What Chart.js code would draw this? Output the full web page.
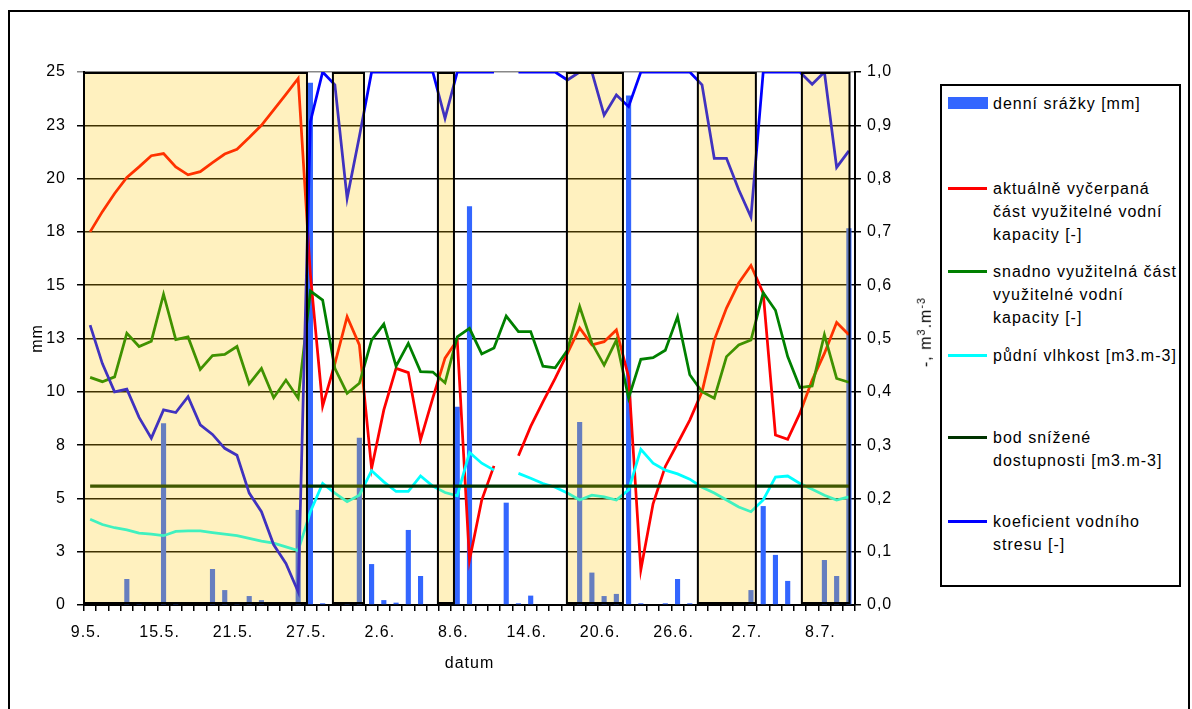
<!DOCTYPE html>
<html lang="cs">
<head>
<meta charset="utf-8">
<title>Vodní bilance porostu</title>
<script src="https://cdn.jsdelivr.net/npm/chart.js@4/dist/chart.umd.min.js"></script>
<style>
  html, body { margin: 0; padding: 0; background: #fff; }
  body { width: 1192px; height: 709px; position: relative; overflow: hidden;
         font-family: "Liberation Sans", Arial, sans-serif; }
  #ramecek { position: absolute; left: 8px; top: 10px; width: 1182px; height: 730px;
             border: 2px solid #000; box-sizing: border-box; }
  #graf { position: absolute; left: 0; top: 0; }
  #legendaBox { position: absolute; left: 940px; top: 84px; width: 241px; height: 503px;
                border: 2px solid #000; box-sizing: border-box; background: #fff; }
  .radek { position: absolute; left: 993px; font-size: 16px; line-height: 23px;
           letter-spacing: 1px; white-space: nowrap; color: #000; }
  .znacka { position: absolute; left: 948px; }
  #osaVpravo { position: absolute; left: 925px; top: 332px; font-size: 16px; letter-spacing: 1px;
               white-space: nowrap; transform: translate(-50%, -50%) rotate(-90deg); }
  #osaVpravo sup { font-size: 11px; }
</style>
</head>
<body>
<div id="ramecek"></div>
<canvas id="graf" width="1192" height="709"></canvas>
<div id="legendaBox"></div>
<div id="legenda"></div>
<div id="osaVpravo">-, m<sup>3</sup>.m<sup>-3</sup></div>
<script>
// dny 9.5. - 10.7.
const dny = [
  '9.5.', '10.5.', '11.5.', '12.5.', '13.5.', '14.5.', '15.5.', '16.5.', '17.5.', '18.5.',
  '19.5.', '20.5.', '21.5.', '22.5.', '23.5.', '24.5.', '25.5.', '26.5.', '27.5.', '28.5.',
  '29.5.', '30.5.', '31.5.', '1.6.', '2.6.', '3.6.', '4.6.', '5.6.', '6.6.', '7.6.',
  '8.6.', '9.6.', '10.6.', '11.6.', '12.6.', '13.6.', '14.6.', '15.6.', '16.6.', '17.6.',
  '18.6.', '19.6.', '20.6.', '21.6.', '22.6.', '23.6.', '24.6.', '25.6.', '26.6.', '27.6.',
  '28.6.', '29.6.', '30.6.', '1.7.', '2.7.', '3.7.', '4.7.', '5.7.', '6.7.', '7.7.',
  '8.7.', '9.7.', '10.7.'
];

// denní srážky [mm]
const srazky = [
  0, 0, 0, 1.22, 0.1, 0, 8.52, 0.1, 0, 0,
  1.69, 0.7, 0.05, 0.42, 0.23, 0, 0, 4.46, 24.5, 0.08,
  0, 0.05, 7.85, 1.92, 0.23, 0.11, 3.52, 1.36, 0, 0,
  9.3, 18.7, 0, 0, 4.8, 0.08, 0.44, 0, 0, 0,
  8.58, 1.52, 0.42, 0.52, 23.9, 0.08, 0, 0.08, 1.22, 0.08,
  0, 0, 0, 0, 0.7, 4.64, 2.35, 1.13, 0, 0,
  2.11, 1.36, 17.67
];

// aktuálně vyčerpaná část využitelné vodní kapacity [-]
const vycerpanaCast = [
  0.700, 0.738, 0.772, 0.802, 0.822, 0.843, 0.847, 0.822, 0.807, 0.813,
  0.830, 0.846, 0.855, 0.877, 0.900, 0.929, 0.958, 0.988, 0.620, 0.373,
  0.453, 0.541, 0.488, 0.256, 0.366, 0.444, 0.436, 0.310, 0.388, 0.463,
  0.497, 0.084, 0.197, 0.261, null, 0.280, 0.335, 0.381, 0.425, 0.472,
  0.520, 0.488, 0.494, 0.516, 0.428, 0.066, 0.190, 0.260, 0.303, 0.347,
  0.400, 0.497, 0.557, 0.604, 0.637, 0.585, 0.319, 0.311, 0.360, 0.422,
  0.472, 0.530, 0.507
];

// snadno využitelná část využitelné vodní kapacity [-]
const snadnoVyuzitelna = [
  0.427, 0.419, 0.428, 0.510, 0.485, 0.495, 0.583, 0.498, 0.503, 0.442,
  0.468, 0.470, 0.485, 0.415, 0.444, 0.389, 0.422, 0.388, 0.589, 0.572,
  0.444, 0.397, 0.416, 0.497, 0.527, 0.448, 0.491, 0.438, 0.437, 0.417,
  0.503, 0.519, 0.471, 0.482, 0.542, 0.513, 0.513, 0.448, 0.445, 0.478,
  0.560, 0.491, 0.450, 0.497, 0.388, 0.461, 0.464, 0.478, 0.541, 0.432,
  0.400, 0.388, 0.466, 0.488, 0.497, 0.586, 0.553, 0.466, 0.408, 0.411,
  0.507, 0.425, 0.418
];

// půdní vlhkost [m3.m-3]
const pudniVlhkost = [
  0.161, 0.151, 0.145, 0.141, 0.135, 0.133, 0.130, 0.138, 0.139, 0.139,
  0.136, 0.133, 0.130, 0.125, 0.120, 0.116, 0.109, 0.102, 0.175, 0.228,
  0.210, 0.194, 0.206, 0.252, 0.231, 0.213, 0.213, 0.242, 0.223, 0.211,
  0.205, 0.286, 0.266, 0.253, null, 0.247, 0.238, 0.228, 0.221, 0.210,
  0.197, 0.206, 0.203, 0.197, 0.216, 0.292, 0.266, 0.253, 0.246, 0.236,
  0.221, 0.210, 0.197, 0.184, 0.175, 0.197, 0.240, 0.242, 0.228, 0.217,
  0.206, 0.197, 0.203
];

// bod snížené dostupnosti [m3.m-3] - konstanta pro celé období
const bodSnizene = 0.223;
const bodSnizeneDostupnosti = dny.map(() => bodSnizene);

// koeficient vodního stresu [-]
const koeficientStresu = [
  0.525, 0.453, 0.400, 0.405, 0.352, 0.313, 0.366, 0.361, 0.391, 0.338,
  0.320, 0.294, 0.281, 0.210, 0.175, 0.113, 0.078, 0.025, 0.907, 1.0,
  0.976, 0.763, 0.879, 1.0, 1.0, 1.0, 1.0, 1.0, 1.0, 0.913,
  1.0, 1.0, 1.0, 1.0, null, 1.0, 1.0, 1.0, 1.0, 0.985,
  1.0, 1.0, 0.919, 0.957, 0.935, 1.0, 1.0, 1.0, 1.0, 1.0,
  0.976, 0.838, 0.838, 0.779, 0.728, 1.0, 1.0, 1.0, 1.0, 0.977,
  1.0, 0.821, 0.852
];

// období stresu (od - do, v pořadí dnů)
const obdobiStresu = [
  [-0.5, 17.72], [19.84, 22.38], [28.42, 29.73], [38.96, 43.54], [49.66, 54.40], [58.16, 62.05]
];

// texty legendy po řádcích a jejich svislá poloha
const legendaRadky = [
  ['denní srážky [mm]'],
  ['aktuálně vyčerpaná', 'část využitelné vodní', 'kapacity [-]'],
  ['snadno využitelná část', 'využitelné vodní', 'kapacity [-]'],
  ['půdní vlhkost [m3.m-3]'],
  ['bod snížené', 'dostupnosti [m3.m-3]'],
  ['koeficient vodního', 'stresu [-]']
];
const legendaY = [103, 188, 271, 355, 437, 521];

const pismo = "'Liberation Sans', Arial, sans-serif";
Chart.defaults.font.family = pismo;
Chart.defaults.font.size = 16;
Chart.defaults.color = '#000';

const cara = (label, data, color, order, width) => ({
  type: 'line',
  label: label,
  data: data,
  yAxisID: 'y1',
  borderColor: color,
  backgroundColor: color,
  borderWidth: width || 2.75,
  pointRadius: 0,
  tension: 0,
  spanGaps: false,
  order: order
});

const dataGraf = {
  labels: dny,
  datasets: [
    {
      type: 'bar',
      label: 'denní srážky [mm]',
      data: srazky,
      yAxisID: 'y',
      backgroundColor: '#3366FF',
      barPercentage: 0.42,
      categoryPercentage: 1,
      order: 5
    },
    cara('aktuálně vyčerpaná část využitelné vodní kapacity [-]', vycerpanaCast, '#FF0000', 4),
    cara('snadno využitelná část využitelné vodní kapacity [-]', snadnoVyuzitelna, '#008000', 3),
    cara('půdní vlhkost [m3.m-3]', pudniVlhkost, '#00FFFF', 2),
    cara('bod snížené dostupnosti [m3.m-3]', bodSnizeneDostupnosti, '#003300', 1, 3.25),
    cara('koeficient vodního stresu [-]', koeficientStresu, '#0000FF', 0)
  ]
};

// žluté obdélníky přes období stresu
const stresovaObdobi = {
  id: 'stresovaObdobi',
  afterDatasetsDraw(chart) {
    const {ctx, chartArea, scales: {x}} = chart;
    const top = chartArea.top + 1;
    const bottom = chartArea.bottom - 2;
    ctx.save();
    obdobiStresu.forEach(([od, po]) => {
      const x1 = Math.max(x.getPixelForValue(od), chartArea.left);
      const x2 = Math.min(x.getPixelForValue(po), chartArea.right);
      ctx.fillStyle = 'rgba(255, 200, 0, 0.25)';
      ctx.fillRect(x1, top, x2 - x1, bottom - top);
      ctx.strokeStyle = '#000';
      ctx.lineWidth = 2;
      ctx.strokeRect(x1, top, x2 - x1, bottom - top);
    });
    ctx.restore();
  }
};

// proložení písmen jako v původním grafu
const prolozeni = {
  id: 'prolozeni',
  beforeUpdate(chart) { chart.ctx.letterSpacing = '1px'; },
  beforeDraw(chart) { chart.ctx.letterSpacing = '1px'; }
};

const optionsGraf = {
  responsive: false,
  animation: false,
  events: [],
  layout: { padding: { left: 0, top: 72, right: 257, bottom: 0 } },
  plugins: {
    legend: { display: false },
    tooltip: { enabled: false }
  },
  scales: {
    x: {
      offset: true,
      grid: { offset: true, drawOnChartArea: false, tickLength: 6, color: '#000', lineWidth: 1.5 },
      border: { color: '#000', width: 2 },
      ticks: {
        autoSkip: false,
        maxRotation: 0,
        padding: 12,
        labelOffset: -4,
        callback: (v, i) => (i % 6 === 0 ? dny[i] : '')
      },
      title: { display: true, text: 'datum', padding: { top: 0, bottom: 36 } },
      afterFit: s => { s.height = 104; }
    },
    y: {
      position: 'left',
      min: 0,
      max: 25,
      ticks: { stepSize: 2.5, padding: 11, callback: v => Math.round(v) },
      grid: {
        color: c => (c.tick && c.tick.value === 25 ? '#888' : '#000'),
        lineWidth: 1.5,
        tickLength: 7
      },
      border: { color: '#000', width: 2 },
      title: { display: true, text: 'mm', padding: { top: 28, bottom: 0 } },
      afterFit: s => { s.width = 84; }
    },
    y1: {
      position: 'right',
      min: 0,
      max: 1,
      ticks: { stepSize: 0.1, padding: 6, callback: v => v.toFixed(1).replace('.', ',') },
      grid: { drawOnChartArea: false, tickLength: 6, color: '#000', lineWidth: 1.5 },
      border: { color: '#000', width: 2 },
      afterFit: s => { s.width = 80; }
    }
  }
};

const graf = new Chart(document.getElementById('graf').getContext('2d'), {
  data: dataGraf,
  options: optionsGraf,
  plugins: [stresovaObdobi, prolozeni]
});

// legenda vpravo
const legenda = document.getElementById('legenda');
graf.data.datasets.forEach((ds, i) => {
  const y = legendaY[i];
  const znacka = document.createElement('div');
  znacka.className = 'znacka';
  if (ds.type === 'bar') {
    Object.assign(znacka.style, { top: (y - 6) + 'px', width: '40px', height: '12px', background: ds.backgroundColor });
  } else {
    Object.assign(znacka.style, { top: (y - 1.5) + 'px', width: '39px', height: '3px', background: ds.borderColor });
  }
  legenda.appendChild(znacka);
  legendaRadky[i].forEach((text, r) => {
    const radek = document.createElement('div');
    radek.className = 'radek';
    radek.style.top = (y - 11.5 + r * 23) + 'px';
    radek.textContent = text;
    legenda.appendChild(radek);
  });
});
</script>
</body>
</html>
